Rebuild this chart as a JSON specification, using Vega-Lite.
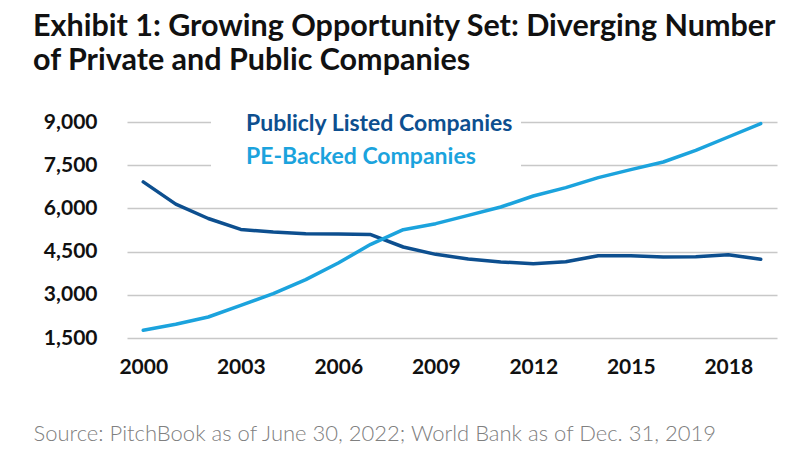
{
  "$schema": "https://vega.github.io/schema/vega-lite/v6.json",
  "width": 650,
  "height": 216,
  "autosize": {"type": "none"},
  "padding": {"left": 127, "top": 122, "right": 25, "bottom": 124},
  "background": "white",
  "title": {
    "text": ["Exhibit 1: Growing Opportunity Set: Diverging Number", "of Private and Public Companies"],
    "anchor": "start",
    "frame": "group",
    "dx": -94,
    "offset": 28,
    "font": "Lato",
    "fontWeight": "bold",
    "fontSize": 30.5,
    "lineHeight": 34,
    "color": "#111111"
  },
  "data": {
    "values": [
      {"year": 2000, "series": "Publicly Listed Companies", "value": 6920},
      {"year": 2001, "series": "Publicly Listed Companies", "value": 6150},
      {"year": 2002, "series": "Publicly Listed Companies", "value": 5650},
      {"year": 2003, "series": "Publicly Listed Companies", "value": 5270},
      {"year": 2004, "series": "Publicly Listed Companies", "value": 5180},
      {"year": 2005, "series": "Publicly Listed Companies", "value": 5120},
      {"year": 2006, "series": "Publicly Listed Companies", "value": 5110},
      {"year": 2007, "series": "Publicly Listed Companies", "value": 5090},
      {"year": 2008, "series": "Publicly Listed Companies", "value": 4660},
      {"year": 2009, "series": "Publicly Listed Companies", "value": 4405},
      {"year": 2010, "series": "Publicly Listed Companies", "value": 4243},
      {"year": 2011, "series": "Publicly Listed Companies", "value": 4139},
      {"year": 2012, "series": "Publicly Listed Companies", "value": 4081},
      {"year": 2013, "series": "Publicly Listed Companies", "value": 4150},
      {"year": 2014, "series": "Publicly Listed Companies", "value": 4359},
      {"year": 2015, "series": "Publicly Listed Companies", "value": 4360},
      {"year": 2016, "series": "Publicly Listed Companies", "value": 4312},
      {"year": 2017, "series": "Publicly Listed Companies", "value": 4324},
      {"year": 2018, "series": "Publicly Listed Companies", "value": 4394},
      {"year": 2019, "series": "Publicly Listed Companies", "value": 4232},
      {"year": 2000, "series": "PE-Backed Companies", "value": 1766},
      {"year": 2001, "series": "PE-Backed Companies", "value": 1975},
      {"year": 2002, "series": "PE-Backed Companies", "value": 2229},
      {"year": 2003, "series": "PE-Backed Companies", "value": 2634},
      {"year": 2004, "series": "PE-Backed Companies", "value": 3039},
      {"year": 2005, "series": "PE-Backed Companies", "value": 3525},
      {"year": 2006, "series": "PE-Backed Companies", "value": 4104},
      {"year": 2007, "series": "PE-Backed Companies", "value": 4752},
      {"year": 2008, "series": "PE-Backed Companies", "value": 5262},
      {"year": 2009, "series": "PE-Backed Companies", "value": 5470},
      {"year": 2010, "series": "PE-Backed Companies", "value": 5759},
      {"year": 2011, "series": "PE-Backed Companies", "value": 6049},
      {"year": 2012, "series": "PE-Backed Companies", "value": 6431},
      {"year": 2013, "series": "PE-Backed Companies", "value": 6720},
      {"year": 2014, "series": "PE-Backed Companies", "value": 7067},
      {"year": 2015, "series": "PE-Backed Companies", "value": 7345},
      {"year": 2016, "series": "PE-Backed Companies", "value": 7611},
      {"year": 2017, "series": "PE-Backed Companies", "value": 8016},
      {"year": 2018, "series": "PE-Backed Companies", "value": 8479},
      {"year": 2019, "series": "PE-Backed Companies", "value": 8942}
    ]
  },
  "mark": {"type": "line", "strokeWidth": 3.5, "strokeJoin": "round", "strokeCap": "round"},
  "encoding": {
    "x": {
      "field": "year",
      "type": "quantitative",
      "scale": {"domain": [1999.5, 2019.5], "nice": false, "zero": false},
      "axis": {
        "values": [2000, 2003, 2006, 2009, 2012, 2015, 2018],
        "format": "d",
        "domain": false,
        "ticks": false,
        "grid": false,
        "labelFont": "Lato",
        "labelFontWeight": "bold",
        "labelFontSize": 21,
        "labelColor": "#111111",
        "labelPadding": 18,
        "title": "Source: PitchBook as of June 30, 2022; World Bank as of Dec. 31, 2019",
        "titleFont": "Lato",
        "titleFontWeight": 300,
        "titleFontSize": 22,
        "titleColor": "#808080",
        "titleAnchor": "start",
        "titleAlign": "left",
        "titleBaseline": "alphabetic",
        "titleX": -94,
        "titleY": 102
      }
    },
    "y": {
      "field": "value",
      "type": "quantitative",
      "scale": {"domain": [1500, 9000], "nice": false, "zero": false},
      "axis": {
        "values": [1500, 3000, 4500, 6000, 7500, 9000],
        "format": ",d",
        "domain": false,
        "ticks": false,
        "gridColor": "#c8c8c8",
        "gridWidth": 1.5,
        "labelFont": "Lato",
        "labelFontWeight": "bold",
        "labelFontSize": 21,
        "labelColor": "#111111",
        "labelPadding": 30,
        "title": null
      }
    },
    "color": {
      "field": "series",
      "type": "nominal",
      "scale": {
        "domain": ["Publicly Listed Companies", "PE-Backed Companies"],
        "range": ["#0d4f8f", "#1ba3dd"]
      },
      "legend": {
        "orient": "none",
        "legendX": 84,
        "legendY": -18,
        "title": null,
        "fillColor": "white",
        "padding": 8,
        "symbolSize": 0,
        "symbolOpacity": 0,
        "symbolStrokeWidth": 0,
        "labelOffset": 4,
        "labelFont": "Lato",
        "labelFontWeight": "bold",
        "labelFontSize": 23,
        "rowPadding": 9,
        "labelLimit": 400,
        "encode": {
          "labels": {"update": {"fill": {"scale": "color", "field": "value"}}}
        }
      }
    }
  },
  "config": {"view": {"stroke": null}}
}
